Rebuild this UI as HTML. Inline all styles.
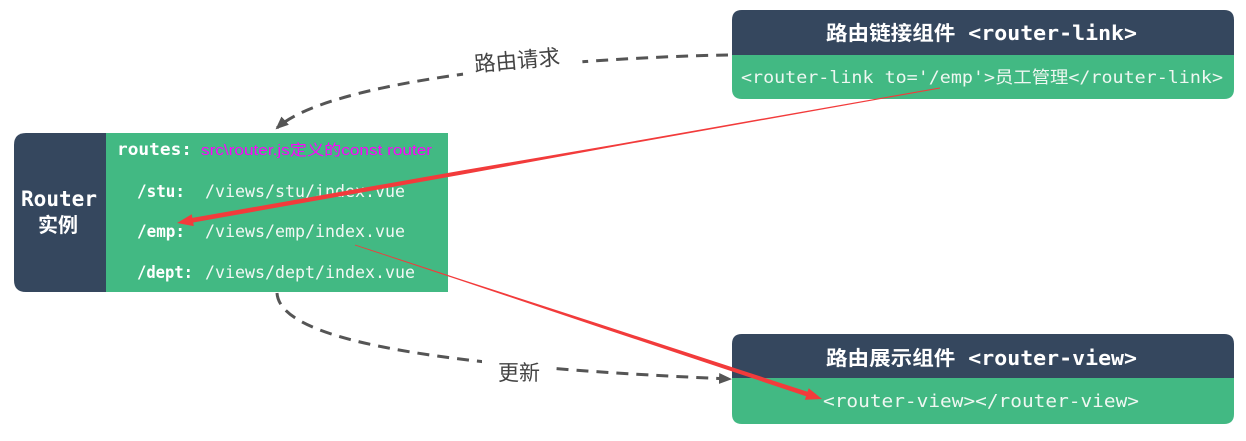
<!DOCTYPE html>
<html><head><meta charset="utf-8">
<style>
html,body{margin:0;padding:0;background:#fff;}
svg{display:block;}
.mono{font-family:"DejaVu Sans Mono","Liberation Mono","Noto Sans CJK SC",monospace;}
.cjk{font-family:"Liberation Sans","Noto Sans CJK SC",sans-serif;}
</style></head>
<body>
<svg width="1246" height="441" viewBox="0 0 1246 441" xmlns="http://www.w3.org/2000/svg">
<defs>
<marker id="ga" markerWidth="13" markerHeight="11" refX="11" refY="5.5" orient="auto" markerUnits="userSpaceOnUse">
<path d="M0,0 L13,5.5 L0,11 z" fill="#555"/>
</marker>
</defs>

<!-- Router box -->
<path d="M26,133 L106,133 L106,292 L26,292 Q14,292 14,280 L14,145 Q14,133 26,133 z" fill="#35475e"/>
<rect x="106" y="133" width="342" height="159" fill="#42b983"/>
<text x="59" y="206" text-anchor="middle" class="mono" font-weight="bold" font-size="21" fill="#fff" textLength="76" lengthAdjust="spacingAndGlyphs">Router</text>
<text x="58" y="232" text-anchor="middle" class="cjk" font-weight="bold" font-size="20" fill="#fff">实例</text>

<text x="117" y="155" class="mono" font-weight="bold" font-size="16.5" fill="#fff" textLength="75" lengthAdjust="spacingAndGlyphs">routes:</text>
<text x="201" y="155" class="cjk" font-size="15" fill="#ff00ff" textLength="231" lengthAdjust="spacingAndGlyphs">src\router.js定义的const router</text>

<text x="137" y="197" class="mono" font-weight="bold" font-size="16.5" fill="#fff" textLength="48" lengthAdjust="spacingAndGlyphs">/stu:</text>
<text x="205" y="197" class="mono" font-size="16.5" fill="#f3f7f4" textLength="200" lengthAdjust="spacingAndGlyphs">/views/stu/index.vue</text>
<text x="137" y="237" class="mono" font-weight="bold" font-size="16.5" fill="#fff" textLength="48" lengthAdjust="spacingAndGlyphs">/emp:</text>
<text x="205" y="237" class="mono" font-size="16.5" fill="#f3f7f4" textLength="200" lengthAdjust="spacingAndGlyphs">/views/emp/index.vue</text>
<text x="137" y="278" class="mono" font-weight="bold" font-size="16.5" fill="#fff" textLength="56" lengthAdjust="spacingAndGlyphs">/dept:</text>
<text x="205" y="278" class="mono" font-size="16.5" fill="#f3f7f4" textLength="210" lengthAdjust="spacingAndGlyphs">/views/dept/index.vue</text>

<!-- Top-right box -->
<path d="M742,10 L1224,10 Q1234,10 1234,20 L1234,55 L732,55 L732,20 Q732,10 742,10 z" fill="#35475e"/>
<path d="M732,55 L1234,55 L1234,89 Q1234,99 1224,99 L742,99 Q732,99 732,89 z" fill="#42b983"/>
<text x="826" y="40" class="mono" font-weight="bold" font-size="20" fill="#fff" textLength="311" lengthAdjust="spacingAndGlyphs">路由链接组件 &lt;router-link&gt;</text>
<text x="741" y="83" class="mono" font-size="17" fill="#eef7f1" textLength="482" lengthAdjust="spacingAndGlyphs">&lt;router-link to='/emp'&gt;员工管理&lt;/router-link&gt;</text>

<!-- Bottom-right box -->
<path d="M742,334 L1224,334 Q1234,334 1234,344 L1234,378 L732,378 L732,344 Q732,334 742,334 z" fill="#35475e"/>
<path d="M732,378 L1234,378 L1234,414 Q1234,424 1224,424 L742,424 Q732,424 732,414 z" fill="#42b983"/>
<text x="826" y="365" class="mono" font-weight="bold" font-size="20" fill="#fff" textLength="311" lengthAdjust="spacingAndGlyphs">路由展示组件 &lt;router-view&gt;</text>
<text x="823" y="407" class="mono" font-size="18" fill="#eef7f1" textLength="316" lengthAdjust="spacingAndGlyphs">&lt;router-view&gt;&lt;/router-view&gt;</text>

<!-- Dashed connectors -->
<path d="M728,55 C560,58 330,80 277,128" fill="none" stroke="#555" stroke-width="3" stroke-dasharray="12 8" marker-end="url(#ga)"/>
<g transform="rotate(-5 517 60)">
<rect x="462" y="45" width="120" height="30" fill="#fff"/>
<text x="517" y="68" text-anchor="middle" class="cjk" font-size="21.5" fill="#444">路由请求</text>
</g>

<path d="M277,293 C280,340 430,366 730,379" fill="none" stroke="#555" stroke-width="3" stroke-dasharray="12 8" marker-end="url(#ga)"/>
<rect x="482" y="355" width="68" height="32" fill="#fff"/>
<text x="519" y="380" text-anchor="middle" class="cjk" font-size="21" fill="#444">更新</text>

<!-- Red annotation arrows -->
<polygon fill="#f23b3b" points="177,223 193.8,226.1 193.2,222.5 460.3,174.9 620.2,145.5 940.1,88.5 939.9,87.5 619.8,143.7 459.7,170.9 192.4,217.9 191.7,214.3"/>
<polygon fill="#f23b3b" points="822,399 804.9,399.7 806.1,396.2 599.5,327.2 459.8,280.2 354.9,245.4 355.1,244.6 460.2,279.0 600.5,324.4 807.5,391.8 808.7,388.3"/>
</svg>
</body></html>
